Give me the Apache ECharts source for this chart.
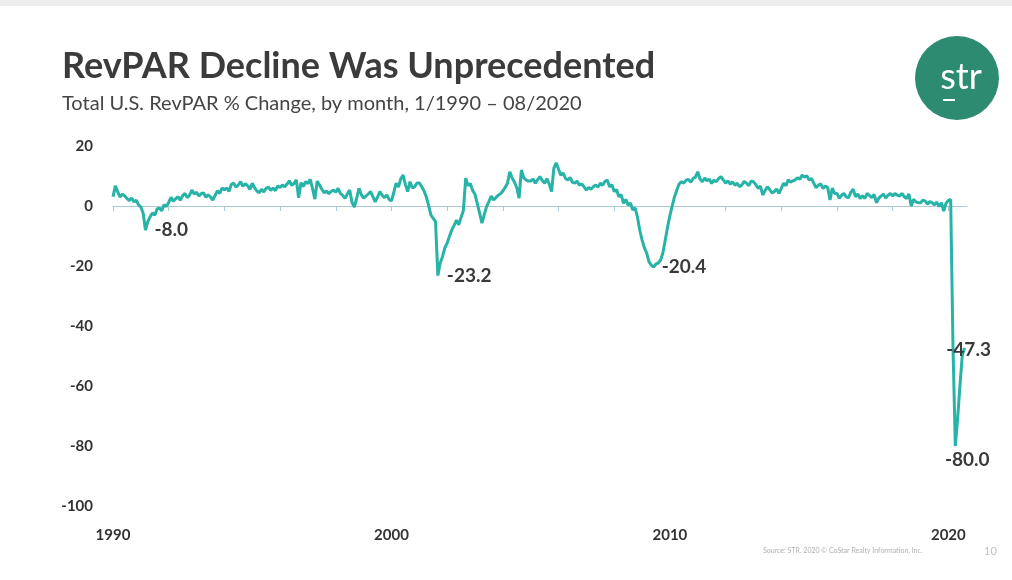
<!DOCTYPE html>
<html>
<head>
    <meta charset="utf-8">
    <script src="https://cdn.jsdelivr.net/npm/echarts@6/dist/echarts.min.js"></script>
</head>
<body style="margin:0;background:#fff">
    <div id="container" style="width:1012px;height:580px"></div>
    <script type="text/javascript">
        // monthly RevPAR % change, one row per year
        var revpar1990s = [
            3.1, 6.7, 4.8, 3.0, 3.9, 3.4, 2.5, 1.8, 2.7, 1.4, 1.9, 0.4,
            -0.3, -2.4, -8.0, -5.2, -3.6, -2.3, -3.1, -1.0, -0.7, -1.6, 0.4, -0.2,
            1.2, 2.9, 1.6, 2.4, 3.1, 1.9, 3.4, 4.2, 2.8, 3.6, 5.3, 4.0,
            4.6, 3.3, 4.1, 4.4, 2.9, 3.7, 3.0, 2.0, 3.5, 5.1, 4.2, 6.0,
            5.4, 6.0, 4.9, 7.2, 7.6, 6.3, 7.0, 8.1, 6.6, 7.4, 6.8, 5.5,
            7.6, 6.1, 5.0, 4.4, 5.6, 4.7, 5.9, 6.3, 5.2, 6.0, 5.1, 6.7,
            6.2, 7.0, 6.4, 7.3, 8.4, 6.9, 7.5, 8.7, 2.7, 7.8, 6.5, 8.1,
            7.5, 8.9, 5.8, 2.3, 8.3, 7.0, 5.6, 4.4, 5.0, 4.1, 4.8, 5.3,
            4.6, 5.9, 4.2, 3.5, 2.6, 4.0, 5.3, 1.2, -0.4, 2.5, 5.9, 3.8,
            2.6, 3.3, 4.0, 4.8, 3.1, 1.4, 2.9, 4.8, 3.6, 2.8, 3.7, 2.2
        ];
        var revpar2000s = [
            1.7, 4.5, 7.6, 6.3, 9.0, 10.3, 7.2, 4.8, 8.1, 6.0, 6.4, 7.7,
            7.7, 6.5, 5.1, 3.1, 0.2, -3.0, -4.1, -5.2, -23.2, -19.0, -16.9, -14.0,
            -12.4, -10.1, -8.0, -6.5, -4.7, -6.3, -3.8, -1.5, 9.3, 6.8, 7.5, 5.2,
            3.9, 0.8, -2.4, -5.7, -2.9, -0.2, 1.5, 3.3, 2.0, 2.8, 3.6, 4.1,
            5.0, 6.2, 7.6, 11.4, 9.3, 8.0, 6.1, 2.6, 12.0, 9.4, 8.7, 8.3,
            8.3, 9.0, 7.6, 8.8, 9.8, 8.5, 7.6, 9.1, 7.3, 4.8, 12.6, 14.4,
            12.3, 10.3, 11.0, 9.2, 8.7, 9.5, 7.9, 7.6, 8.3, 6.9, 7.4, 6.4,
            5.3, 6.2, 5.6, 6.4, 7.0, 6.3, 7.6, 6.9, 8.2, 8.7, 6.4, 7.1,
            4.8, 5.5, 3.1, 3.8, 0.9, 2.2, 0.3, 1.0, -1.3, -0.6, -3.6, -8.0,
            -11.3, -13.9, -15.7, -18.6, -19.7, -20.4, -19.3, -19.0, -18.0, -15.6, -11.3, -7.0
        ];
        var revpar2010s = [
            -3.2, 0.0, 3.1, 5.3, 7.4, 8.1, 7.6, 8.6, 8.9, 7.9, 9.2, 9.6,
            11.4, 9.0, 8.1, 9.3, 8.4, 8.9, 7.5, 8.6, 8.1, 9.1, 9.8, 8.7,
            7.6, 8.4, 7.3, 8.1, 6.9, 7.6, 6.4, 7.0, 8.2, 7.6, 6.8, 8.3,
            8.1, 7.2, 5.9, 6.6, 3.7, 5.1, 6.4, 5.5, 4.4, 4.8, 5.7, 4.2,
            5.9, 7.6, 6.8, 8.7, 7.9, 8.4, 8.7, 9.4, 8.9, 10.3, 9.6, 10.1,
            8.7, 9.2, 7.6, 6.1, 6.9, 7.4, 5.8, 6.7, 6.2, 2.0, 6.0, 4.2,
            4.2, 2.5, 3.6, 4.2, 3.0, 2.8, 4.6, 5.6, 3.1, 4.0, 2.5, 3.4,
            2.5, 4.2, 3.5, 2.8, 3.9, 1.1, 2.6, 3.3, 4.0, 2.7, 3.6, 4.2,
            3.3, 4.2, 3.6, 3.3, 4.2, 3.1, 2.5, 4.0, 0.0, 2.2, 1.4, 1.1,
            1.1, 1.9, 1.7, 0.6, 1.5, 1.1, 0.4, 1.3, -0.2, 1.1, -1.7, 0.9
        ];
        var revpar2020 = [1.8, 2.2, -46.7, -80.0, -70.9, -59.9, -49.8, -47.3];

        var startYear = 1990;
        var yTicks = [-100, -80, -60, -40, -20, 0, 20];
        var tickYears = [1990, 1992, 1994, 1996, 1998, 2000, 2002, 2004, 2006, 2008, 2010, 2012, 2014, 2016, 2018, 2020];
        var labelYears = [1990, 2000, 2010, 2020];
        // months (index from 1/1990) that carry a value callout
        var calloutMonths = [14, 140, 233, 363, 367];

        var values = revpar1990s.concat(revpar2000s, revpar2010s, revpar2020);
        var seriesData = values.map(function (v, i) {
            return [startYear + i / 12, v];
        });

        var calloutStyle = {
            14: { position: 'right', distance: 9 },
            140: { position: 'right', distance: 9 },
            233: { position: 'right', distance: 8 },
            363: { position: 'bottom', distance: 4, offset: [12, 0] },
            367: { position: 'inside', offset: [4, 2] }
        };
        var marks = calloutMonths.map(function (i) {
            return {
                coord: seriesData[i],
                value: values[i],
                label: calloutStyle[i]
            };
        });

        var xMin = startYear, xMax = 2020.67;
        var axisFont = { fontFamily: 'Lato', fontWeight: 'bold', fontSize: 15, color: '#333' };

        var dom = document.getElementById('container');
        var myChart = echarts.init(dom, null, { renderer: 'canvas' });
        var option = {
            animation: false,
            title: [{
                text: 'RevPAR Decline Was Unprecedented',
                left: 62,
                top: 48,
                padding: 0,
                textStyle: { fontFamily: 'Lato', fontWeight: 'bold', fontSize: 36, color: '#3b3b3b' }
            }, {
                text: 'Total U.S. RevPAR % Change, by month, 1/1990 \u2013 08/2020',
                left: 62,
                top: 94,
                padding: 0,
                textStyle: { fontFamily: 'Lato', fontWeight: 'normal', fontSize: 20, color: '#454545' }
            }],
            grid: [
                { left: 113, right: 45, top: 146, bottom: 74 },
                { left: 113, right: 45, top: 146, bottom: 74 }
            ],
            xAxis: [{
                type: 'value', gridIndex: 0, min: xMin, max: xMax, interval: 2,
                axisLine: { onZero: true, lineStyle: { color: '#a9c8d8', width: 1 } },
                axisTick: { show: true, customValues: tickYears, length: 5, lineStyle: { color: '#a9c8d8' } },
                axisLabel: { show: false },
                splitLine: { show: false }
            }, {
                type: 'value', gridIndex: 1, min: xMin, max: xMax, interval: 10,
                axisLine: { show: false, onZero: false },
                axisTick: { show: false },
                splitLine: { show: false },
                axisLabel: Object.assign({
                    margin: 22,
                    customValues: labelYears,
                    formatter: function (v) { return v % 10 === 0 ? String(v) : ''; }
                }, axisFont)
            }],
            yAxis: [{
                type: 'value', gridIndex: 0, min: yTicks[0], max: yTicks[yTicks.length - 1], interval: 20,
                axisLine: { show: false }, axisTick: { show: false }, splitLine: { show: false },
                axisLabel: Object.assign({ margin: 20 }, axisFont)
            }, {
                type: 'value', gridIndex: 1, min: yTicks[0], max: yTicks[yTicks.length - 1], interval: 20,
                show: false
            }],
            series: [{
                type: 'line',
                xAxisIndex: 0,
                yAxisIndex: 0,
                data: seriesData,
                showSymbol: false,
                symbol: 'none',
                lineStyle: { color: '#27b3a7', width: 3 },
                markPoint: {
                    symbol: 'circle',
                    symbolSize: 0,
                    label: {
                        show: true,
                        fontFamily: 'Lato',
                        fontWeight: 'bold',
                        fontSize: 19,
                        color: '#3a3a3a',
                        formatter: function (p) { return p.value.toFixed(1); }
                    },
                    data: marks
                }
            }],
            graphic: [
                { type: 'rect', left: 0, top: 0, shape: { width: 1012, height: 6 }, style: { fill: '#ededed' } },
                { type: 'circle', shape: { cx: 957, cy: 78, r: 42 }, style: { fill: '#2c8b70' } },
                { type: 'text', x: 961, y: 77, style: { text: 'str', fill: '#fff', font: '36px Lato', textAlign: 'center', textVerticalAlign: 'middle' } },
                { type: 'rect', shape: { x: 943, y: 99, width: 12, height: 2 }, style: { fill: '#fff' } },
                { type: 'text', x: 763, y: 551, style: { text: 'Source: STR. 2020 \u00a9 CoStar Realty Information, Inc.', fill: '#b0b0b0', font: '7px Lato', textVerticalAlign: 'middle' } },
                { type: 'text', x: 984, y: 551, style: { text: '10', fill: '#c0c0c0', font: '11px Lato', textVerticalAlign: 'middle' } }
            ]
        };
        myChart.setOption(option);
    </script>
</body>
</html>
